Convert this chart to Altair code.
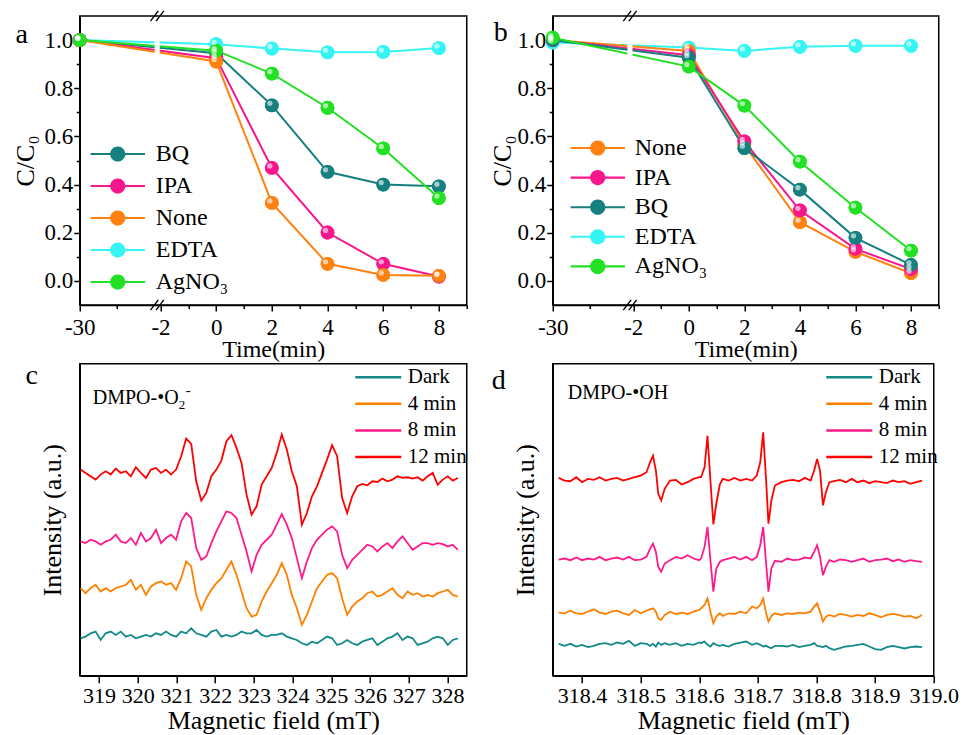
import altair as alt
import pandas as pd

FONT = "Liberation Serif, Times New Roman, serif"

# ---------------- panels a / b : degradation kinetics ----------------
times = [-30, 0, 2, 4, 6, 8]
BREAK_POS = {-30: -4.9}      # broken time axis: -30 min is drawn at this position
X_BREAK = -2.12              # where the axis break marks sit
SLASH_SHIFT = [-0.1, 0.1]    # the two strokes of a "//" break mark
SLASH_DX, SLASH_DY = 0.14, 0.021

a_order = ["BQ", "IPA", "None", "EDTA", "AgNO₃"]
a_draw = ["EDTA", "BQ", "IPA", "None", "AgNO₃"]
a_BQ = [1.0, 0.945, 0.729, 0.453, 0.400, 0.393]
a_IPA = [1.0, 0.925, 0.469, 0.201, 0.071, 0.018]
a_None = [1.0, 0.911, 0.324, 0.071, 0.025, 0.021]
a_EDTA = [1.0, 0.983, 0.965, 0.949, 0.951, 0.967]
a_AgNO3 = [1.0, 0.956, 0.861, 0.719, 0.550, 0.344]

b_order = ["None", "IPA", "BQ", "EDTA", "AgNO₃"]
b_draw = ["EDTA", "None", "IPA", "BQ", "AgNO₃"]
b_None = [1.0, 0.955, 0.565, 0.244, 0.121, 0.032]
b_IPA = [1.0, 0.937, 0.579, 0.293, 0.133, 0.049]
b_BQ = [1.0, 0.927, 0.551, 0.379, 0.179, 0.067]
b_EDTA = [0.99, 0.969, 0.955, 0.972, 0.976, 0.976]
b_AgNO3 = [1.01, 0.890, 0.728, 0.495, 0.304, 0.126]

KIN_COLORS = {"BQ": "#167F7F", "IPA": "#F7168C", "None": "#FF8211",
              "EDTA": "#34F4F4", "AgNO₃": "#22E022"}

x_major_minor = [-4.9, -3.58, -2, -1, 0, 1, 2, 3, 4, 5, 6, 7, 8, 9]
y_ticks = [0.0, 0.1, 0.2, 0.3, 0.4, 0.5, 0.6, 0.7, 0.8, 0.9, 1.0]

# ---------------- panel c : DMPO-O2- spectra ----------------
c_x = [318.52, 318.65, 318.78, 318.91, 319.04, 319.17, 319.30, 319.43, 319.56, 319.69,
       319.82, 319.95, 320.08, 320.21, 320.34, 320.47, 320.60, 320.73, 320.86, 320.99,
       321.12, 321.25, 321.38, 321.51, 321.64, 321.77, 321.90, 322.03, 322.16, 322.29,
       322.42, 322.55, 322.68, 322.81, 322.94, 323.07, 323.20, 323.33, 323.46, 323.59,
       323.72, 323.85, 323.98, 324.11, 324.24, 324.37, 324.50, 324.63, 324.76, 324.89,
       325.02, 325.15, 325.28, 325.41, 325.54, 325.67, 325.80, 325.93, 326.06, 326.19,
       326.32, 326.45, 326.58, 326.71, 326.84, 326.97, 327.10, 327.23, 327.36, 327.49,
       327.62, 327.75, 327.88, 328.01, 328.14, 328.27]
c_12 = [617, 607, 597, 587, 602, 612, 602, 620, 607, 612,
        597, 624, 607, 592, 617, 622, 607, 617, 602, 617,
        657, 710, 694, 582, 524, 547, 597, 617, 644, 702,
        720, 682, 637, 542, 482, 507, 572, 597, 622, 667,
        722, 677, 612, 567, 452, 487, 537, 567, 607, 647,
        690, 657, 532, 487, 537, 567, 574, 570, 582, 580,
        590, 582, 587, 597, 592, 594, 590, 594, 584, 597,
        607, 572, 587, 597, 584, 592]
c_8 = [402, 397, 407, 402, 392, 402, 407, 422, 402, 397,
       412, 392, 427, 402, 412, 437, 397, 412, 422, 407,
       462, 487, 472, 382, 347, 357, 397, 432, 462, 492,
       487, 472, 422, 372, 312, 362, 392, 407, 422, 452,
       484, 452, 412, 352, 292, 342, 382, 407, 422, 437,
       447, 432, 362, 322, 347, 362, 377, 392, 387, 372,
       387, 397, 382, 402, 417, 397, 377, 387, 397, 397,
       392, 397, 394, 387, 392, 377]
c_4 = [262, 247, 262, 272, 252, 262, 252, 262, 267, 272,
       287, 257, 272, 242, 267, 277, 282, 272, 277, 257,
       292, 342, 327, 242, 197, 232, 257, 277, 292, 317,
       342, 302, 252, 202, 177, 182, 222, 252, 277, 302,
       337, 302, 242, 202, 152, 182, 222, 262, 282, 302,
       307, 292, 232, 182, 207, 222, 232, 247, 252, 237,
       242, 252, 262, 242, 232, 252, 242, 247, 237, 242,
       237, 247, 252, 257, 242, 237]
c_dark = [112, 117, 127, 132, 107, 127, 132, 122, 132, 117,
          122, 112, 117, 122, 117, 127, 122, 132, 122, 117,
          132, 127, 142, 127, 122, 117, 132, 137, 117, 122,
          117, 122, 132, 127, 127, 137, 122, 117, 122, 122,
          127, 117, 112, 107, 97, 92, 102, 97, 107, 117,
          112, 92, 97, 107, 97, 92, 102, 107, 112, 92,
          102, 112, 117, 127, 107, 117, 112, 92, 97, 102,
          112, 117, 112, 92, 107, 112]
c_ticks = [319, 320, 321, 322, 323, 324, 325, 326, 327, 328]

# ---------------- panel d : DMPO-OH spectra ----------------
d_x = [318.36, 318.37, 318.38, 318.39, 318.40, 318.41, 318.42, 318.43, 318.44, 318.45,
       318.46, 318.47, 318.48, 318.49, 318.50,
       318.510, 318.516, 318.521, 318.526, 318.530, 318.535, 318.541,
       318.55, 318.56, 318.57, 318.58, 318.59, 318.60,
       318.603, 318.609, 318.614, 318.619, 318.624, 318.629, 318.635,
       318.64, 318.65, 318.66, 318.67, 318.68, 318.69,
       318.698, 318.704, 318.709, 318.714, 318.718, 318.723, 318.729,
       318.74, 318.75, 318.76, 318.77, 318.78,
       318.790, 318.796, 318.801, 318.806, 318.811, 318.816, 318.822,
       318.83, 318.84, 318.85, 318.86, 318.87, 318.88, 318.89, 318.90,
       318.91, 318.92, 318.93, 318.94, 318.95, 318.96, 318.97, 318.98]
d_12 = [596, 588, 586, 598, 583, 593, 590, 598, 588, 593, 596, 588, 593, 598, 603,
        613, 643, 663, 618, 548, 528, 563,
        588, 590, 576, 583, 593, 598,
        598, 628, 723, 588, 456, 518, 576,
        593, 588, 596, 588, 593, 588,
        603, 643, 733, 588, 458, 528, 573,
        583, 588, 590, 586, 596,
        588, 618, 653, 618, 513, 553, 583,
        586, 590, 583, 593, 583, 588, 580, 586, 583, 580, 588, 583, 586, 578, 583, 588]
d_8 = [350, 353, 348, 356, 348, 353, 350, 358, 348, 353, 356, 350, 358, 348, 350,
       358, 383, 398, 373, 328, 313, 338,
       348, 358, 353, 363, 353, 348,
       353, 388, 448, 348, 253, 323, 343,
       348, 353, 358, 350, 358, 348,
       358, 393, 448, 338, 253, 323, 346,
       343, 353, 348, 350, 356,
       353, 373, 393, 358, 303, 328, 348,
       343, 350, 348, 343, 348, 353, 343, 348, 350, 353, 345, 350, 343, 348, 345, 343]
d_4 = [190, 188, 196, 188, 186, 193, 200, 190, 186, 193, 196, 188, 183, 198, 188,
       196, 200, 203, 193, 173, 168, 183,
       193, 186, 190, 186, 193, 198,
       203, 213, 233, 193, 158, 178, 188,
       180, 188, 186, 193, 188, 208,
       203, 213, 233, 188, 163, 180, 188,
       183, 188, 186, 190, 188,
       193, 208, 218, 193, 163, 178, 183,
       178, 186, 183, 178, 183, 180, 188, 183, 176, 183, 186, 183, 178, 180, 173, 183]
d_dark = [96, 90, 96, 88, 93, 86, 90, 96, 98, 93, 100, 96, 105, 90, 98,
          96, 90, 96, 88, 100, 93, 98,
          93, 98, 90, 96, 93, 100,
          98, 103, 93, 88, 98, 93, 90,
          93, 88, 96, 100, 103, 93,
          98, 93, 88, 90, 86, 83, 90,
          90, 88, 93, 86, 90,
          93, 98, 90, 88, 86, 90, 83,
          78, 83, 88, 90, 93, 96, 88, 80, 78, 86, 90, 86, 82, 86, 88, 86]
d_ticks = [318.4, 318.5, 318.6, 318.7, 318.8, 318.9, 319.0]

EPR_NAMES = ["Dark", "4 min", "8 min", "12 min"]
EPR_COLORS = ["#138A8A", "#FF8000", "#FF1A8C", "#FF0000"]

# legend glyphs: line with a ball (filled shape) / plain line
SYM_PT = ("M-3.4,-0.13L3.4,-0.13L3.4,0.13L-3.4,0.13Z"
          "M0.95,0A0.95,0.95,0,1,1,-0.95,0A0.95,0.95,0,1,1,0.95,0Z")
SYM_LN = "M-2.3,0L2.3,0"


def letter_layer(letter, lx, ly):
    return alt.Chart(pd.DataFrame({"lab": [letter]})).mark_text(
        font=FONT, fontSize=28, align="center", baseline="alphabetic", color="black"
    ).encode(text="lab:N", x=alt.value(lx), y=alt.value(ly))


def kin_panel(order, draw, vals, letter, lxy, leg, w, h, ytp):
    rows = []
    for s in draw:
        for t, v in zip(times, vals[s]):
            rows.append({"series": s, "pos": BREAK_POS.get(t, t), "v": v})
    df = pd.DataFrame(rows)
    rng = [KIN_COLORS[s] for s in order]

    x_axis = alt.Axis(
        values=x_major_minor, title="Time(min)",
        labelExpr="datum.value < -4 ? '-30' : (datum.value % 2 != 0 ? '' : "
                  "(datum.value < 0 ? '-' + abs(datum.value) : '' + datum.value))",
        tickSize={"condition": {"test": "datum.value < -4 || datum.value % 2 == 0", "value": 6},
                  "value": 3.5},
        labelFlush=False, labelOverlap=False, grid=False,
        labelFont=FONT, labelFontSize=23, labelColor="black", labelPadding=5,
        titleFont=FONT, titleFontSize=24, titleFontWeight="normal", titleColor="black",
        titlePadding=-2, tickColor="black", tickWidth=1.5,
        domainColor="black", domainWidth=1.5)
    y_axis = alt.Axis(
        values=y_ticks, title="C/C₀",
        labelExpr="round(datum.value * 10) % 2 == 0 ? format(datum.value, '.1f') : ''",
        tickSize={"condition": {"test": "round(datum.value * 10) % 2 == 0", "value": 6},
                  "value": 3.5},
        labelFlush=False, labelOverlap=False, grid=False,
        labelFont=FONT, labelFontSize=23, labelColor="black", labelPadding=1,
        titleFont=FONT, titleFontSize=26, titleFontWeight="normal", titleColor="black",
        titlePadding=ytp, tickColor="black", tickWidth=1.5,
        domainColor="black", domainWidth=1.5)

    X = alt.X("pos:Q", scale=alt.Scale(domain=[-4.9, 9], nice=False, zero=False), axis=x_axis)
    Y = alt.Y("v:Q", scale=alt.Scale(domain=[-0.1, 1.1], nice=False, zero=False), axis=y_axis)
    cscale = alt.Scale(domain=order, range=rng)

    legend = alt.Legend(orient="none", legendX=leg[0], legendY=leg[1], title=None,
                        symbolType=SYM_PT, symbolSize=256, symbolStrokeWidth=0,
                        labelFont=FONT, labelFontSize=24, labelColor="black",
                        labelOffset=leg[2], rowPadding=leg[3], padding=0, labelLimit=0)

    # the point layer comes first so that its (filled) legend is the one shown
    pts = alt.Chart(df).mark_point(filled=True, size=190, opacity=1).encode(
        x=X, y=Y, color=alt.Color("series:N", scale=cscale, legend=legend))
    lines = alt.Chart(df).mark_line(strokeWidth=2).encode(
        x=X, y=Y, color=alt.Color("series:N", scale=cscale, legend=None))
    gap = alt.Chart(pd.DataFrame({"pos": [X_BREAK - 0.09], "pos2": [X_BREAK + 0.09],
                                  "v": [0.86], "v2": [1.06]})).mark_rect(color="white").encode(
        x=X, x2="pos2:Q", y=Y, y2="v2:Q")
    shine = alt.Chart(df).mark_circle(size=28, color="white", opacity=0.6,
                                      xOffset=-2, yOffset=-2).encode(x=X, y=Y)
    srows = []
    for edge in [1.1, -0.1]:
        for sh in SLASH_SHIFT:
            c = X_BREAK + sh
            srows.append({"pos": c - SLASH_DX, "pos2": c + SLASH_DX,
                          "v": edge - SLASH_DY, "v2": edge + SLASH_DY})
    brk = alt.Chart(pd.DataFrame(srows)).mark_rule(color="black", strokeWidth=1.4).encode(
        x=X, x2="pos2:Q", y=Y, y2="v2:Q")
    return alt.layer(pts, lines, gap, pts, shine, brk, letter_layer(letter, *lxy)).properties(
        width=w, height=h)


def epr_panel(xv, series, xdom, ticks, fmt, ydom, letter, lxy, w, h, leg, note_layers):
    rows = []
    for n in EPR_NAMES:
        for xx, yy in zip(xv, series[n]):
            rows.append({"series": n, "B": xx, "I": yy})
    df = pd.DataFrame(rows)
    x_axis = alt.Axis(values=ticks, format=fmt, title="Magnetic field (mT)",
                      labelFlush=False, labelOverlap=False, grid=False,
                      labelFont=FONT, labelFontSize=22, labelColor="black", labelPadding=3,
                      titleFont=FONT, titleFontSize=26, titleFontWeight="normal",
                      titleColor="black", titlePadding=1, tickColor="black", tickWidth=1.5,
                      tickSize=7, domainColor="black", domainWidth=1.5)
    y_axis = alt.Axis(title="Intensity (a.u.)", labels=False, ticks=False, grid=False,
                      titleFont=FONT, titleFontSize=26, titleFontWeight="normal",
                      titleColor="black", titlePadding=14,
                      domainColor="black", domainWidth=1.5)
    legend = alt.Legend(orient="none", legendX=leg[0], legendY=leg[1], title=None,
                        symbolType=SYM_LN, symbolSize=400, symbolStrokeWidth=2.5,
                        labelFont=FONT, labelFontSize=21, labelColor="black",
                        labelOffset=leg[2], rowPadding=leg[3], padding=0, labelLimit=0)
    lines = alt.Chart(df).mark_line(strokeWidth=1.8).encode(
        x=alt.X("B:Q", scale=alt.Scale(domain=xdom, nice=False, zero=False), axis=x_axis),
        y=alt.Y("I:Q", scale=alt.Scale(domain=ydom, nice=False, zero=False), axis=y_axis),
        color=alt.Color("series:N", scale=alt.Scale(domain=EPR_NAMES, range=EPR_COLORS),
                        legend=legend))
    return alt.layer(lines, letter_layer(letter, *lxy), *note_layers).properties(width=w, height=h)


def note(text, x, y, size):
    return alt.Chart(pd.DataFrame({"t": [text]})).mark_text(
        font=FONT, fontSize=size, align="left", baseline="alphabetic", color="black"
    ).encode(text="t:N", x=alt.value(x), y=alt.value(y))


pa = kin_panel(a_order, a_draw,
               {"BQ": a_BQ, "IPA": a_IPA, "None": a_None, "EDTA": a_EDTA, "AgNO₃": a_AgNO3},
               "a", (-58, 27), (26, 126, 26, 8), 387, 289, 5.5)
pb = kin_panel(b_order, b_draw,
               {"BQ": b_BQ, "IPA": b_IPA, "None": b_None, "EDTA": b_EDTA, "AgNO₃": b_AgNO3},
               "b", (-52, 25), (33, 120, 25, 5.6), 386, 289, 2)

pc = epr_panel(c_x, {"Dark": c_dark, "4 min": c_4, "8 min": c_8, "12 min": c_12},
               [318.5, 328.5], c_ticks, "d", [0, 934], "c", (-48, 20), 387, 312,
               (287, 2, 18, 4.6),
               [note("DMPO-•O", 13, 40, 20), note("2", 99, 45, 13), note("-", 106, 31, 15)])
pd_ = epr_panel(d_x, {"Dark": d_dark, "4 min": d_4, "8 min": d_8, "12 min": d_12},
                [318.35, 319.0], d_ticks, ".1f", [0, 940], "d", (-54, 25), 381, 312,
                (285, 2, 18, 4.6),
                [note("DMPO-•OH", 15, 35, 20)])

chart = alt.concat(pa, pb, pc, pd_, columns=2, spacing={"row": 58.7, "column": 86},
                   bounds="flush", align="each").resolve_scale(
    color="independent").configure(
    font=FONT).configure_axis(labelFont=FONT, titleFont=FONT).configure_legend(
    labelFont=FONT, titleFont=FONT).configure_view(
    stroke="black", strokeWidth=1.5).properties(
    padding={"left": 3.75, "top": 1, "right": 0, "bottom": 0})

chart.save("out.html", embed_options={"renderer": "svg", "actions": False})
